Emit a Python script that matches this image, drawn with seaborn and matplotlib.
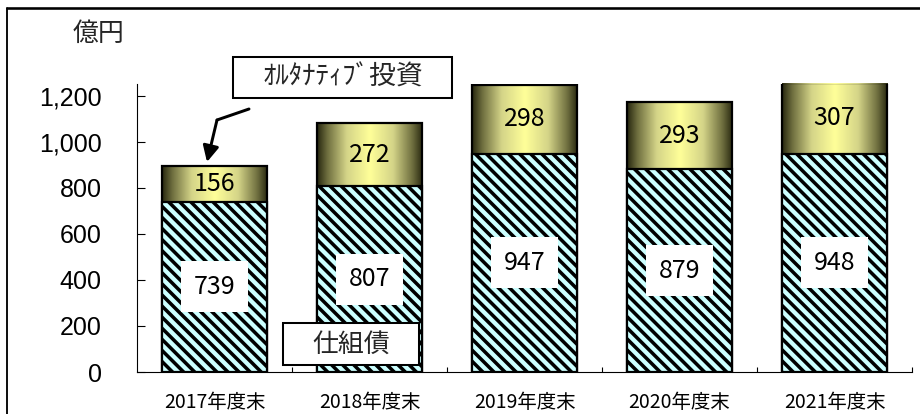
import numpy as np
import pandas as pd
import matplotlib
matplotlib.use("Agg")
import matplotlib.pyplot as plt
import seaborn as sns
from matplotlib.colors import LinearSegmentedColormap
from matplotlib.patches import Rectangle
from matplotlib.lines import Line2D

# ---- data ----
categories = ["2017年度末", "2018年度末", "2019年度末", "2020年度末", "2021年度末"]
structured_bonds = [739, 807, 947, 879, 948]      # 仕組債
alternatives = [156, 272, 298, 293, 307]          # ｵﾙﾀﾅﾃｨﾌﾞ投資
yticks = [0, 200, 400, 600, 800, 1000, 1200]
ytick_labels = ["0", "200", "400", "600", "800", "1,000", "1,200"]
unit_label = "億円"
label_alt = "ｵﾙﾀﾅﾃｨﾌﾞ投資"
label_bond = "仕組債"

sns.set_theme(style="white")
plt.rcParams["font.family"] = ["Noto Sans CJK JP", "DejaVu Sans"]
plt.rcParams["hatch.linewidth"] = 1.9
plt.rcParams["hatch.color"] = "black"

DPI = 400 / 3
fig = plt.figure(figsize=(920 / DPI, 414 / DPI), dpi=DPI)
ax = fig.add_axes([137 / 920, 1 - 372 / 414, 775 / 920, 288 / 414])

totals = [a + b for a, b in zip(structured_bonds, alternatives)]
df = pd.DataFrame({"cat": categories, "bond": structured_bonds,
                   "alt": alternatives, "total": totals})

sns.barplot(data=df, x="cat", y="total", color="white", width=0.68,
            ax=ax, saturation=1)
n = len(categories)
top_patches = list(ax.patches[:n])
sns.barplot(data=df, x="cat", y="bond", color="#ccffff", width=0.68,
            ax=ax, saturation=1)
bottom_patches = list(ax.patches[n:2 * n])

ax.set_xlim(-0.5, n - 0.5)
ax.set_ylim(0, 1250)

# gradient for the top segments
cmap = LinearSegmentedColormap.from_list(
    "olive", [(0.0, "#26260f"), (0.1, "#707040"), (0.28, "#d4d488"),
              (0.5, "#ffff99"), (0.72, "#d4d488"), (0.9, "#707040"),
              (1.0, "#26260f")])
grad = np.linspace(0, 1, 256).reshape(1, -1)
for p in top_patches:
    p.set_facecolor("none")
    p.set_edgecolor("black")
    p.set_linewidth(1.2)
    p.set_zorder(2)
    x0, w, h = p.get_x(), p.get_width(), p.get_height()
    im = ax.imshow(grad, extent=(x0, x0 + w, 0, h), aspect="auto",
                   cmap=cmap, zorder=1.5, interpolation="bilinear")
    im.set_clip_path(p)

for p in bottom_patches:
    p.set_facecolor("#ccffff")
    p.set_edgecolor("black")
    p.set_hatch("\\\\\\\\")
    p.set_linewidth(1.2)
    p.set_zorder(3)

ax.set_xlim(-0.5, n - 0.5)
ax.set_ylim(0, 1250)

# value labels
for i, (b, a) in enumerate(zip(structured_bonds, alternatives)):
    ax.text(i, b / 2, f"{b}", ha="center", va="center", fontsize=13.5,
            zorder=5, color="black",
            bbox=dict(boxstyle="square,pad=0.5", fc="white", ec="none"))
    ax.text(i, b + a / 2, f"{a}", ha="center", va="center", fontsize=13.5,
            zorder=5, color="black")

# axes styling
for s in ["top", "right"]:
    ax.spines[s].set_visible(False)
for s in ["left", "bottom"]:
    ax.spines[s].set_color("black")
    ax.spines[s].set_linewidth(0.6)
ax.set_xlabel("")
ax.set_ylabel("")
ax.set_yticks(yticks)
ax.set_yticklabels(ytick_labels, fontsize=13.5, family=["Liberation Sans", "DejaVu Sans"])
ax.tick_params(axis="y", direction="in", length=4.3, width=0.6, pad=19,
               colors="black", left=True)
ax.set_xticks(range(n))
ax.set_xticklabels(categories, fontsize=10.5)
ax.tick_params(axis="x", which="major", length=0, pad=11, colors="black")
ax.set_xticks(np.arange(0.5, n, 1.0), minor=True)
ax.tick_params(axis="x", which="minor", direction="in", length=2.8,
               width=0.6, bottom=True, colors="black")
ax.grid(False)
ax.set_facecolor("white")

# unit label
fig.text(98 / 920, 1 - 33 / 414, unit_label, ha="center", va="center",
         fontsize=14)

# annotation boxes (figure pixel coordinates)
def fig_box(x0, y0, x1, y1, text, fs):
    W, H = 920, 414
    r = Rectangle((x0 / W, 1 - y1 / H), (x1 - x0) / W, (y1 - y0) / H,
                  transform=fig.transFigure, fc="white", ec="black",
                  lw=1.1, zorder=10)
    fig.add_artist(r)
    fig.text((x0 + x1) / 2 / W, 1 - (y0 + y1) / 2 / H, text, ha="center",
             va="center", fontsize=fs, zorder=11)

fig_box(233, 57, 452, 98, label_alt, 14.5)
fig_box(283, 323, 419, 365, label_bond, 14)

# arrow from the alternatives label to the 2017 bar
def px2data(px, py):
    return ((px - 137) / 155 - 0.5, (372 - py) / (288 / 1250))

p1 = px2data(249, 109)
p2 = px2data(217, 120)
tip = px2data(207, 162)
ax.plot([p1[0], p2[0]], [p1[1], p2[1]], color="black", lw=1.6,
        clip_on=False, zorder=6)
ax.annotate("", xy=tip, xytext=p2,
            arrowprops=dict(arrowstyle="-|>,head_length=0.6,head_width=0.3",
                            color="black", lw=1.6, shrinkA=0, shrinkB=0),
            annotation_clip=False, zorder=6)

# outer frame (left and top)
fig.add_artist(Line2D([7 / 920, 7 / 920], [0, 1 - 7.5 / 414], color="black",
                      lw=1.0, transform=fig.transFigure))
fig.add_artist(Line2D([7 / 920, 1], [1 - 7.5 / 414, 1 - 7.5 / 414],
                      color="black", lw=1.4, transform=fig.transFigure))

fig.savefig("out.png", dpi=DPI)
